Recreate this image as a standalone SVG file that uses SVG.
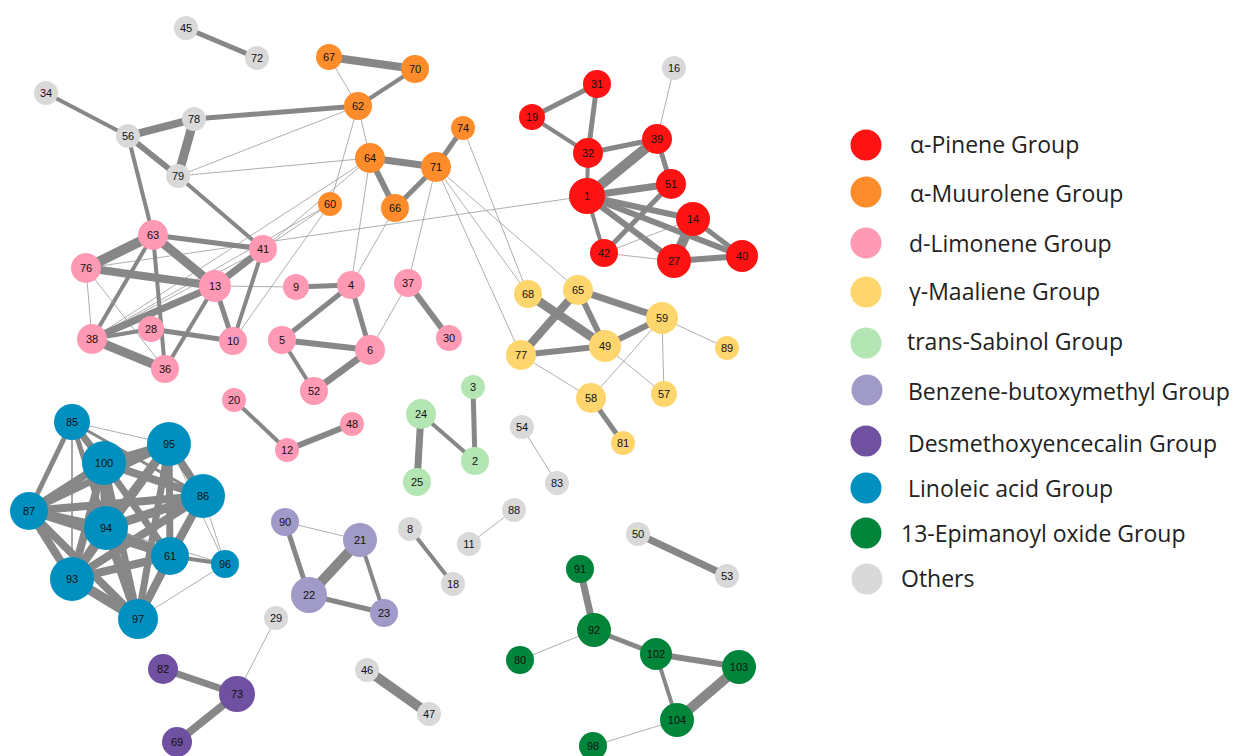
<svg xmlns="http://www.w3.org/2000/svg" width="1236" height="756" viewBox="0 0 1236 756">
<style>
.e line{stroke:#878787;stroke-linecap:butt}
.t{stroke:#9a9a9a !important;stroke-width:0.8}
.n text{font-family:"Liberation Sans",Arial,sans-serif;font-size:11px;fill:#111;text-anchor:middle;dominant-baseline:central}
.gr{fill:#d9d9d9}.or{fill:#ff8c2b}.re{fill:#ff1212}.pk{fill:#ff99b4}.ye{fill:#ffd56e}.lg{fill:#b4e6b4}.lp{fill:#a09ac8}.dp{fill:#7050a0}.bl{fill:#0090c0}.dg{fill:#00853a}
.lt{font-family:"Open Sans","Noto Sans",sans-serif;font-size:23px;fill:#222}
</style>
<rect width="1236" height="756" fill="#fff"/>
<g id="connectors" class="e">
<line x1="186" y1="28" x2="257" y2="58" stroke-width="5"/>
<line x1="46" y1="93" x2="128" y2="136" stroke-width="4"/>
<line x1="128" y1="136" x2="194" y2="119" stroke-width="8"/>
<line x1="128" y1="136" x2="178" y2="176" stroke-width="6"/>
<line x1="194" y1="119" x2="178" y2="176" stroke-width="9"/>
<line x1="128" y1="136" x2="153" y2="235" stroke-width="4"/>
<line x1="194" y1="119" x2="358" y2="106" stroke-width="5"/>
<line class="t" x1="178" y1="176" x2="358" y2="106"/>
<line class="t" x1="178" y1="176" x2="370" y2="158"/>
<line x1="178" y1="176" x2="263" y2="249" stroke-width="4"/>
<line x1="329" y1="57" x2="415" y2="69" stroke-width="8"/>
<line class="t" x1="329" y1="57" x2="358" y2="106"/>
<line x1="415" y1="69" x2="358" y2="106" stroke-width="4"/>
<line class="t" x1="358" y1="106" x2="370" y2="158"/>
<line class="t" x1="358" y1="106" x2="330" y2="204"/>
<line x1="370" y1="158" x2="436" y2="167" stroke-width="7"/>
<line x1="370" y1="158" x2="395" y2="208" stroke-width="6"/>
<line x1="436" y1="167" x2="395" y2="208" stroke-width="5"/>
<line x1="436" y1="167" x2="463" y2="128" stroke-width="5"/>
<line class="t" x1="370" y1="158" x2="351" y2="285"/>
<line class="t" x1="395" y1="208" x2="351" y2="285"/>
<line class="t" x1="370" y1="158" x2="263" y2="249"/>
<line class="t" x1="370" y1="158" x2="92" y2="339"/>
<line class="t" x1="330" y1="204" x2="263" y2="249"/>
<line class="t" x1="330" y1="204" x2="233" y2="341"/>
<line class="t" x1="330" y1="204" x2="92" y2="339"/>
<line class="t" x1="86" y1="268" x2="587" y2="196"/>
<line class="t" x1="436" y1="167" x2="408" y2="283"/>
<line class="t" x1="436" y1="167" x2="521" y2="355"/>
<line class="t" x1="436" y1="167" x2="528" y2="294"/>
<line class="t" x1="436" y1="167" x2="578" y2="290"/>
<line class="t" x1="463" y1="128" x2="528" y2="294"/>
<line x1="153" y1="235" x2="86" y2="268" stroke-width="10"/>
<line x1="153" y1="235" x2="263" y2="249" stroke-width="5"/>
<line x1="153" y1="235" x2="215" y2="286" stroke-width="9"/>
<line x1="153" y1="235" x2="92" y2="339" stroke-width="4"/>
<line x1="153" y1="235" x2="165" y2="369" stroke-width="4"/>
<line x1="86" y1="268" x2="215" y2="286" stroke-width="8"/>
<line class="t" x1="86" y1="268" x2="92" y2="339"/>
<line class="t" x1="86" y1="268" x2="165" y2="369"/>
<line class="t" x1="92" y1="339" x2="263" y2="249"/>
<line x1="215" y1="286" x2="263" y2="249" stroke-width="7"/>
<line x1="215" y1="286" x2="92" y2="339" stroke-width="7"/>
<line x1="215" y1="286" x2="233" y2="341" stroke-width="5"/>
<line x1="215" y1="286" x2="165" y2="369" stroke-width="4"/>
<line class="t" x1="215" y1="286" x2="296" y2="287"/>
<line x1="263" y1="249" x2="233" y2="341" stroke-width="4"/>
<line x1="151" y1="329" x2="92" y2="339" stroke-width="4"/>
<line x1="151" y1="329" x2="233" y2="341" stroke-width="5"/>
<line x1="92" y1="339" x2="165" y2="369" stroke-width="9"/>
<line x1="296" y1="287" x2="351" y2="285" stroke-width="5"/>
<line x1="351" y1="285" x2="282" y2="340" stroke-width="5"/>
<line x1="351" y1="285" x2="370" y2="350" stroke-width="5"/>
<line x1="282" y1="340" x2="370" y2="350" stroke-width="6"/>
<line x1="282" y1="340" x2="314" y2="391" stroke-width="4"/>
<line x1="314" y1="391" x2="370" y2="350" stroke-width="7"/>
<line class="t" x1="370" y1="350" x2="408" y2="283"/>
<line x1="408" y1="283" x2="449" y2="338" stroke-width="6"/>
<line x1="234" y1="400" x2="287" y2="450" stroke-width="4"/>
<line x1="287" y1="450" x2="352" y2="424" stroke-width="6"/>
<line x1="528" y1="294" x2="605" y2="346" stroke-width="9"/>
<line x1="578" y1="290" x2="521" y2="355" stroke-width="8"/>
<line x1="578" y1="290" x2="605" y2="346" stroke-width="6"/>
<line x1="578" y1="290" x2="662" y2="318" stroke-width="7"/>
<line x1="662" y1="318" x2="605" y2="346" stroke-width="6"/>
<line x1="521" y1="355" x2="605" y2="346" stroke-width="6"/>
<line class="t" x1="521" y1="355" x2="591" y2="398"/>
<line class="t" x1="662" y1="318" x2="727" y2="348"/>
<line class="t" x1="662" y1="318" x2="664" y2="394"/>
<line class="t" x1="662" y1="318" x2="591" y2="398"/>
<line class="t" x1="605" y1="346" x2="664" y2="394"/>
<line x1="591" y1="398" x2="623" y2="443" stroke-width="5"/>
<line x1="597" y1="84" x2="532" y2="117" stroke-width="5"/>
<line x1="597" y1="84" x2="588" y2="153" stroke-width="5"/>
<line x1="532" y1="117" x2="588" y2="153" stroke-width="4"/>
<line x1="588" y1="153" x2="657" y2="139" stroke-width="5"/>
<line x1="588" y1="153" x2="587" y2="196" stroke-width="4"/>
<line x1="587" y1="196" x2="657" y2="139" stroke-width="10"/>
<line x1="657" y1="139" x2="671" y2="184" stroke-width="5"/>
<line class="t" x1="657" y1="139" x2="674" y2="68"/>
<line x1="587" y1="196" x2="671" y2="184" stroke-width="7"/>
<line x1="587" y1="196" x2="693" y2="219" stroke-width="6"/>
<line x1="587" y1="196" x2="742" y2="256" stroke-width="6"/>
<line x1="587" y1="196" x2="674" y2="261" stroke-width="6"/>
<line x1="587" y1="196" x2="604" y2="253" stroke-width="4"/>
<line x1="604" y1="253" x2="671" y2="184" stroke-width="5"/>
<line class="t" x1="604" y1="253" x2="693" y2="219"/>
<line class="t" x1="604" y1="253" x2="674" y2="261"/>
<line x1="693" y1="219" x2="674" y2="261" stroke-width="10"/>
<line x1="693" y1="219" x2="742" y2="256" stroke-width="5"/>
<line x1="674" y1="261" x2="742" y2="256" stroke-width="6"/>
<line x1="421" y1="414" x2="417" y2="482" stroke-width="7"/>
<line x1="421" y1="414" x2="475" y2="461" stroke-width="4"/>
<line x1="473" y1="387" x2="475" y2="461" stroke-width="5"/>
<line class="t" x1="522" y1="427" x2="557" y2="483"/>
<line class="t" x1="514" y1="510" x2="469" y2="544"/>
<line x1="410" y1="529" x2="453" y2="584" stroke-width="4"/>
<line class="t" x1="285" y1="522" x2="360" y2="540"/>
<line x1="285" y1="522" x2="309" y2="595" stroke-width="5"/>
<line x1="360" y1="540" x2="309" y2="595" stroke-width="10"/>
<line x1="360" y1="540" x2="384" y2="613" stroke-width="4"/>
<line x1="309" y1="595" x2="384" y2="613" stroke-width="5"/>
<line class="t" x1="276" y1="618" x2="237" y2="694"/>
<line x1="163" y1="669" x2="237" y2="694" stroke-width="7"/>
<line x1="237" y1="694" x2="177" y2="742" stroke-width="8"/>
<line x1="367" y1="670" x2="429" y2="714" stroke-width="10"/>
<line x1="638" y1="534" x2="727" y2="576" stroke-width="7"/>
<line x1="580" y1="569" x2="594" y2="630" stroke-width="7"/>
<line class="t" x1="594" y1="630" x2="520" y2="660"/>
<line x1="594" y1="630" x2="656" y2="654" stroke-width="5"/>
<line x1="656" y1="654" x2="739" y2="667" stroke-width="6"/>
<line x1="656" y1="654" x2="677" y2="720" stroke-width="4"/>
<line x1="739" y1="667" x2="677" y2="720" stroke-width="10"/>
<line class="t" x1="677" y1="720" x2="593" y2="746"/>
<line x1="72" y1="422" x2="104" y2="463" stroke-width="7"/>
<line class="t" x1="72" y1="422" x2="169" y2="444"/>
<line x1="72" y1="422" x2="29" y2="511" stroke-width="5"/>
<line x1="72" y1="422" x2="106" y2="528" stroke-width="5"/>
<line x1="72" y1="422" x2="72" y2="579" stroke="#bbb" stroke-width="1.5"/>
<line x1="72" y1="422" x2="203" y2="496" stroke-width="3"/>
<line x1="72" y1="422" x2="170" y2="556" stroke-width="3"/>
<line x1="72" y1="422" x2="138" y2="619" stroke-width="3"/>
<line x1="104" y1="463" x2="169" y2="444" stroke-width="8"/>
<line x1="104" y1="463" x2="203" y2="496" stroke-width="8"/>
<line x1="104" y1="463" x2="29" y2="511" stroke-width="8"/>
<line x1="104" y1="463" x2="106" y2="528" stroke-width="9"/>
<line x1="104" y1="463" x2="170" y2="556" stroke-width="7"/>
<line x1="104" y1="463" x2="72" y2="579" stroke-width="8"/>
<line x1="104" y1="463" x2="138" y2="619" stroke-width="7"/>
<line x1="169" y1="444" x2="203" y2="496" stroke-width="8"/>
<line x1="169" y1="444" x2="29" y2="511" stroke-width="7"/>
<line x1="169" y1="444" x2="106" y2="528" stroke-width="9"/>
<line x1="169" y1="444" x2="170" y2="556" stroke-width="7"/>
<line x1="169" y1="444" x2="72" y2="579" stroke-width="8"/>
<line x1="169" y1="444" x2="138" y2="619" stroke-width="7"/>
<line x1="203" y1="496" x2="29" y2="511" stroke-width="8"/>
<line x1="203" y1="496" x2="106" y2="528" stroke-width="9"/>
<line x1="203" y1="496" x2="170" y2="556" stroke-width="8"/>
<line x1="203" y1="496" x2="72" y2="579" stroke-width="8"/>
<line x1="203" y1="496" x2="138" y2="619" stroke-width="7"/>
<line x1="29" y1="511" x2="106" y2="528" stroke-width="9"/>
<line x1="29" y1="511" x2="170" y2="556" stroke-width="7"/>
<line x1="29" y1="511" x2="72" y2="579" stroke-width="8"/>
<line x1="29" y1="511" x2="138" y2="619" stroke-width="8"/>
<line x1="106" y1="528" x2="170" y2="556" stroke-width="8"/>
<line x1="106" y1="528" x2="72" y2="579" stroke-width="9"/>
<line x1="106" y1="528" x2="138" y2="619" stroke-width="9"/>
<line x1="170" y1="556" x2="72" y2="579" stroke-width="8"/>
<line x1="170" y1="556" x2="138" y2="619" stroke-width="8"/>
<line x1="72" y1="579" x2="138" y2="619" stroke-width="10"/>
<line class="t" x1="225" y1="564" x2="203" y2="496"/>
<line x1="225" y1="564" x2="170" y2="556" stroke-width="4"/>
<line class="t" x1="225" y1="564" x2="138" y2="619"/>
<line class="t" x1="225" y1="564" x2="106" y2="528"/>
<line class="t" x1="225" y1="564" x2="169" y2="444"/>
</g>
<g class="n">
<g id="n45"><circle class="gr" cx="186" cy="28" r="12"/><text x="186" y="28">45</text></g>
<g id="n72"><circle class="gr" cx="257" cy="58" r="12"/><text x="257" y="58">72</text></g>
<g id="n34"><circle class="gr" cx="46" cy="93" r="12"/><text x="46" y="93">34</text></g>
<g id="n56"><circle class="gr" cx="128" cy="136" r="12"/><text x="128" y="136">56</text></g>
<g id="n78"><circle class="gr" cx="194" cy="119" r="12"/><text x="194" y="119">78</text></g>
<g id="n79"><circle class="gr" cx="178" cy="176" r="12"/><text x="178" y="176">79</text></g>
<g id="n16"><circle class="gr" cx="674" cy="68" r="12"/><text x="674" y="68">16</text></g>
<g id="n54"><circle class="gr" cx="522" cy="427" r="12"/><text x="522" y="427">54</text></g>
<g id="n83"><circle class="gr" cx="557" cy="483" r="12"/><text x="557" y="483">83</text></g>
<g id="n88"><circle class="gr" cx="514" cy="510" r="12"/><text x="514" y="510">88</text></g>
<g id="n11"><circle class="gr" cx="469" cy="544" r="12"/><text x="469" y="544">11</text></g>
<g id="n8"><circle class="gr" cx="410" cy="529" r="12"/><text x="410" y="529">8</text></g>
<g id="n18"><circle class="gr" cx="453" cy="584" r="12"/><text x="453" y="584">18</text></g>
<g id="n29"><circle class="gr" cx="276" cy="618" r="12"/><text x="276" y="618">29</text></g>
<g id="n46"><circle class="gr" cx="367" cy="670" r="12"/><text x="367" y="670">46</text></g>
<g id="n47"><circle class="gr" cx="429" cy="714" r="12"/><text x="429" y="714">47</text></g>
<g id="n50"><circle class="gr" cx="638" cy="534" r="12"/><text x="638" y="534">50</text></g>
<g id="n53"><circle class="gr" cx="727" cy="576" r="12"/><text x="727" y="576">53</text></g>
<g id="n67"><circle class="or" cx="329" cy="57" r="13"/><text x="329" y="57">67</text></g>
<g id="n70"><circle class="or" cx="415" cy="69" r="14"/><text x="415" y="69">70</text></g>
<g id="n62"><circle class="or" cx="358" cy="106" r="14"/><text x="358" y="106">62</text></g>
<g id="n74"><circle class="or" cx="463" cy="128" r="12"/><text x="463" y="128">74</text></g>
<g id="n64"><circle class="or" cx="370" cy="158" r="15"/><text x="370" y="158">64</text></g>
<g id="n71"><circle class="or" cx="436" cy="167" r="15"/><text x="436" y="167">71</text></g>
<g id="n60"><circle class="or" cx="330" cy="204" r="12"/><text x="330" y="204">60</text></g>
<g id="n66"><circle class="or" cx="395" cy="208" r="14"/><text x="395" y="208">66</text></g>
<g id="n31"><circle class="re" cx="597" cy="84" r="14"/><text x="597" y="84">31</text></g>
<g id="n19"><circle class="re" cx="532" cy="117" r="13"/><text x="532" y="117">19</text></g>
<g id="n32"><circle class="re" cx="588" cy="153" r="15"/><text x="588" y="153">32</text></g>
<g id="n39"><circle class="re" cx="657" cy="139" r="15"/><text x="657" y="139">39</text></g>
<g id="n51"><circle class="re" cx="671" cy="184" r="15"/><text x="671" y="184">51</text></g>
<g id="n1"><circle class="re" cx="587" cy="196" r="18"/><text x="587" y="196">1</text></g>
<g id="n14"><circle class="re" cx="693" cy="219" r="17"/><text x="693" y="219">14</text></g>
<g id="n42"><circle class="re" cx="604" cy="253" r="14"/><text x="604" y="253">42</text></g>
<g id="n27"><circle class="re" cx="674" cy="261" r="17"/><text x="674" y="261">27</text></g>
<g id="n40"><circle class="re" cx="742" cy="256" r="16"/><text x="742" y="256">40</text></g>
<g id="n63"><circle class="pk" cx="153" cy="235" r="15"/><text x="153" y="235">63</text></g>
<g id="n76"><circle class="pk" cx="86" cy="268" r="15"/><text x="86" y="268">76</text></g>
<g id="n41"><circle class="pk" cx="263" cy="249" r="14"/><text x="263" y="249">41</text></g>
<g id="n13"><circle class="pk" cx="215" cy="286" r="16"/><text x="215" y="286">13</text></g>
<g id="n9"><circle class="pk" cx="296" cy="287" r="13"/><text x="296" y="287">9</text></g>
<g id="n4"><circle class="pk" cx="351" cy="285" r="14"/><text x="351" y="285">4</text></g>
<g id="n37"><circle class="pk" cx="408" cy="283" r="14"/><text x="408" y="283">37</text></g>
<g id="n28"><circle class="pk" cx="151" cy="329" r="13"/><text x="151" y="329">28</text></g>
<g id="n38"><circle class="pk" cx="92" cy="339" r="15"/><text x="92" y="339">38</text></g>
<g id="n10"><circle class="pk" cx="233" cy="341" r="14"/><text x="233" y="341">10</text></g>
<g id="n5"><circle class="pk" cx="282" cy="340" r="14"/><text x="282" y="340">5</text></g>
<g id="n6"><circle class="pk" cx="370" cy="350" r="15"/><text x="370" y="350">6</text></g>
<g id="n30"><circle class="pk" cx="449" cy="338" r="13"/><text x="449" y="338">30</text></g>
<g id="n36"><circle class="pk" cx="165" cy="369" r="14"/><text x="165" y="369">36</text></g>
<g id="n52"><circle class="pk" cx="314" cy="391" r="14"/><text x="314" y="391">52</text></g>
<g id="n20"><circle class="pk" cx="234" cy="400" r="12"/><text x="234" y="400">20</text></g>
<g id="n12"><circle class="pk" cx="287" cy="450" r="12"/><text x="287" y="450">12</text></g>
<g id="n48"><circle class="pk" cx="352" cy="424" r="12"/><text x="352" y="424">48</text></g>
<g id="n68"><circle class="ye" cx="528" cy="294" r="14"/><text x="528" y="294">68</text></g>
<g id="n65"><circle class="ye" cx="578" cy="290" r="15"/><text x="578" y="290">65</text></g>
<g id="n59"><circle class="ye" cx="662" cy="318" r="16"/><text x="662" y="318">59</text></g>
<g id="n49"><circle class="ye" cx="605" cy="346" r="16"/><text x="605" y="346">49</text></g>
<g id="n77"><circle class="ye" cx="521" cy="355" r="15"/><text x="521" y="355">77</text></g>
<g id="n89"><circle class="ye" cx="727" cy="348" r="12"/><text x="727" y="348">89</text></g>
<g id="n58"><circle class="ye" cx="591" cy="398" r="15"/><text x="591" y="398">58</text></g>
<g id="n57"><circle class="ye" cx="664" cy="394" r="13"/><text x="664" y="394">57</text></g>
<g id="n81"><circle class="ye" cx="623" cy="443" r="12"/><text x="623" y="443">81</text></g>
<g id="n3"><circle class="lg" cx="473" cy="387" r="12"/><text x="473" y="387">3</text></g>
<g id="n24"><circle class="lg" cx="421" cy="414" r="15"/><text x="421" y="414">24</text></g>
<g id="n2"><circle class="lg" cx="475" cy="461" r="14"/><text x="475" y="461">2</text></g>
<g id="n25"><circle class="lg" cx="417" cy="482" r="14"/><text x="417" y="482">25</text></g>
<g id="n85"><circle class="bl" cx="72" cy="422" r="18"/><text x="72" y="422">85</text></g>
<g id="n100"><circle class="bl" cx="104" cy="463" r="22"/><text x="104" y="463">100</text></g>
<g id="n95"><circle class="bl" cx="169" cy="444" r="22"/><text x="169" y="444">95</text></g>
<g id="n86"><circle class="bl" cx="203" cy="496" r="22"/><text x="203" y="496">86</text></g>
<g id="n87"><circle class="bl" cx="29" cy="511" r="19"/><text x="29" y="511">87</text></g>
<g id="n94"><circle class="bl" cx="106" cy="528" r="22"/><text x="106" y="528">94</text></g>
<g id="n61"><circle class="bl" cx="170" cy="556" r="19"/><text x="170" y="556">61</text></g>
<g id="n96"><circle class="bl" cx="225" cy="564" r="14"/><text x="225" y="564">96</text></g>
<g id="n93"><circle class="bl" cx="72" cy="579" r="22"/><text x="72" y="579">93</text></g>
<g id="n97"><circle class="bl" cx="138" cy="619" r="20"/><text x="138" y="619">97</text></g>
<g id="n90"><circle class="lp" cx="285" cy="522" r="14"/><text x="285" y="522">90</text></g>
<g id="n21"><circle class="lp" cx="360" cy="540" r="17"/><text x="360" y="540">21</text></g>
<g id="n22"><circle class="lp" cx="309" cy="595" r="18"/><text x="309" y="595">22</text></g>
<g id="n23"><circle class="lp" cx="384" cy="613" r="14"/><text x="384" y="613">23</text></g>
<g id="n82"><circle class="dp" cx="163" cy="669" r="15"/><text x="163" y="669">82</text></g>
<g id="n73"><circle class="dp" cx="237" cy="694" r="18"/><text x="237" y="694">73</text></g>
<g id="n69"><circle class="dp" cx="177" cy="742" r="15"/><text x="177" y="742">69</text></g>
<g id="n91"><circle class="dg" cx="580" cy="569" r="14"/><text x="580" y="569">91</text></g>
<g id="n92"><circle class="dg" cx="594" cy="630" r="17"/><text x="594" y="630">92</text></g>
<g id="n80"><circle class="dg" cx="520" cy="660" r="14"/><text x="520" y="660">80</text></g>
<g id="n102"><circle class="dg" cx="656" cy="654" r="16"/><text x="656" y="654">102</text></g>
<g id="n103"><circle class="dg" cx="739" cy="667" r="17"/><text x="739" y="667">103</text></g>
<g id="n104"><circle class="dg" cx="677" cy="720" r="17"/><text x="677" y="720">104</text></g>
<g id="n98"><circle class="dg" cx="593" cy="746" r="14"/><text x="593" y="746">98</text></g>
</g>
<g id="legend">
<circle class="re" cx="866" cy="145" r="15.5"/><text class="lt" x="910" y="153">α-Pinene Group</text>
<circle class="or" cx="866" cy="192" r="15.5"/><text class="lt" x="910" y="202">α-Muurolene Group</text>
<circle class="pk" cx="866" cy="243" r="15.5"/><text class="lt" x="909" y="252">d-Limonene Group</text>
<circle class="ye" cx="866" cy="292" r="15.5"/><text class="lt" x="909" y="300">γ-Maaliene Group</text>
<circle class="lg" cx="866" cy="343" r="15.5"/><text class="lt" x="907" y="350">trans-Sabinol Group</text>
<circle class="lp" cx="867" cy="390" r="15.5"/><text class="lt" x="908" y="400">Benzene-butoxymethyl Group</text>
<circle class="dp" cx="866" cy="441" r="15.5"/><text class="lt" x="908" y="452">Desmethoxyencecalin Group</text>
<circle class="bl" cx="866" cy="488" r="15.5"/><text class="lt" x="908" y="497">Linoleic acid Group</text>
<circle class="dg" cx="866" cy="533" r="15.5"/><text class="lt" x="901" y="542">13-Epimanoyl oxide Group</text>
<circle class="gr" cx="867" cy="579" r="15.5"/><text class="lt" x="901" y="587">Others</text>
</g>
</svg>
